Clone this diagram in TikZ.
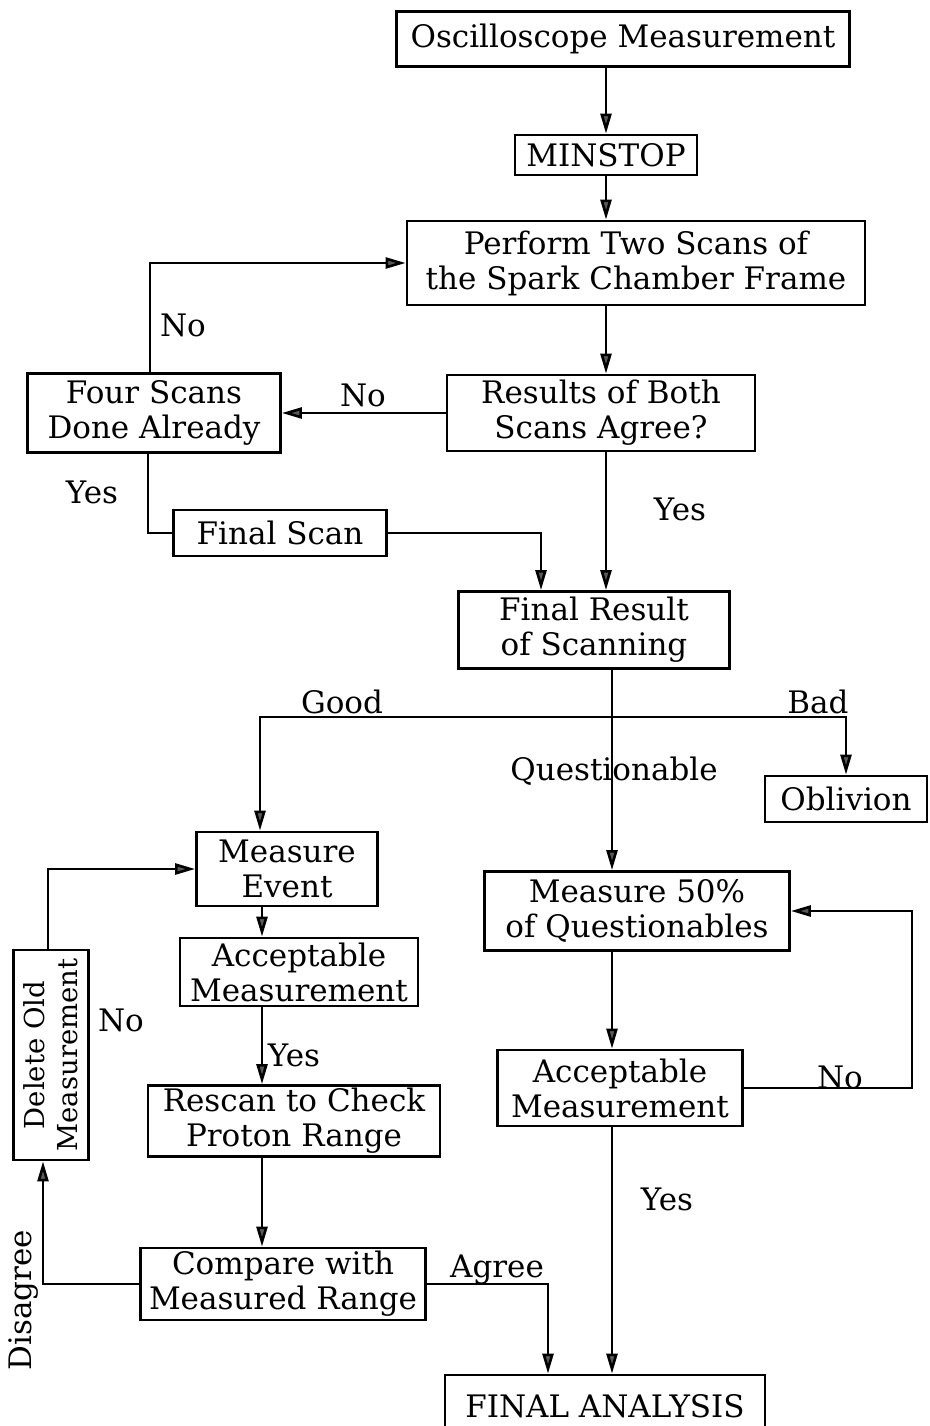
\documentclass[tikz,border=0pt]{standalone}
\usepackage{fontspec}
\setmainfont{DejaVu Serif}
\usetikzlibrary{arrows.meta,calc}
\newcommand{\fsz}{\fontsize{31}{35}\selectfont}
\newcommand{\fszs}{\fontsize{27.5}{33}\selectfont}
\begin{document}
\begin{tikzpicture}[x=1pt,y=-1pt,
  box/.style={draw, line width=2.8pt, font=\fsz, align=center, inner sep=0pt},
  conn/.style={line width=2.6pt},
  arr/.style={line width=2.6pt, -{Triangle[length=20pt,width=11pt,fill=black!65]}},
  lbl/.style={font=\fsz, inner sep=0pt}]
\useasboundingbox (0,0) rectangle (929,1426);
% boxes
\node[box, minimum width=453pt, minimum height=55pt] (osc) at (623,39) {Oscilloscope Measurement};
\node[box, minimum width=182pt, minimum height=40pt] (minstop) at (606,155) {MINSTOP};
\node[box, minimum width=458pt, minimum height=84pt] (perform) at (636,263) {Perform Two Scans of\\the Spark Chamber Frame};
\node[box, minimum width=308pt, minimum height=76pt] (results) at (601,413) {Results of Both\\Scans Agree?};
\node[box, minimum width=253pt, minimum height=79pt] (four) at (154,413) {Four Scans\\Done Already};
\node[box, minimum width=213pt, minimum height=46pt] (fscan) at (280,533) {Final Scan};
\node[box, minimum width=271pt, minimum height=77pt] (fresult) at (594,630) {Final Result\\of Scanning};
\node[box, minimum width=162pt, minimum height=46pt] (obliv) at (846,799) {Oblivion};
\node[box, minimum width=181pt, minimum height=74pt] (mevent) at (287,869) {Measure\\Event};
\node[box, minimum width=305pt, minimum height=79pt] (m50) at (637,911) {Measure 50\%\\of Questionables};
\node[box, minimum width=238pt, minimum height=68pt] (accL) at (299,972) {Acceptable\\Measurement};
\node[box, minimum width=245pt, minimum height=76pt] (accR) at (620,1088) {Acceptable\\Measurement};
\node[box, minimum width=292pt, minimum height=71pt] (rescan) at (294,1121) {Rescan to Check\\Proton Range};
\node[box, font=\fszs, rotate=90, minimum width=210pt, minimum height=75pt] (delete) at (51,1055) {Delete Old\\Measurement};
\node[box, minimum width=285pt, minimum height=72pt] (compare) at (283,1284) {Compare with\\Measured Range};
\node[box, minimum width=320pt, minimum height=62pt] (final) at (605,1406) {FINAL ANALYSIS};
% helper coordinates
\coordinate (mc) at (606,0);
\coordinate (br) at (612,717);
\coordinate (lc) at (262,0);
\coordinate (rloop) at (912,0);
% connectors
\draw[arr] (osc.south -| mc) -- (minstop.north -| mc);
\draw[arr] (minstop.south -| mc) -- (perform.north -| mc);
\draw[arr] (perform.south -| mc) -- (results.north -| mc);
\draw[arr] (results.west) -- (four.east);
\draw[arr] ([xshift=-4pt]four.north) |- (perform.west);
\draw[conn] ([xshift=-6pt]four.south) |- (fscan.west);
\draw[arr] (fscan.east) -| ([xshift=-53pt]fresult.north);
\draw[arr] (results.south -| mc) -- (fresult.north -| mc);
\draw[arr] (fresult.south -| br) -- (m50.north -| br);
\draw[arr] (br) -| ([xshift=-27pt]mevent.north);
\draw[arr] (br) -| (obliv.north);
\draw[arr] (mevent.south -| lc) -- (accL.north -| lc);
\draw[arr] (accL.south -| lc) -- (rescan.north -| lc);
\draw[arr] (rescan.south -| lc) -- (compare.north -| lc);
\draw[arr] (compare.west) -| ([xshift=-8pt]delete.west);
\draw[arr] ([xshift=-3pt]delete.east) |- (mevent.west);
\draw[arr] (compare.east) -| ([xshift=-57pt]final.north);
\draw[arr] (m50.south -| br) -- (accR.north -| br);
\draw[arr] (accR.east) -| (rloop |- m50.east) -- (m50.east);
\draw[arr] (accR.south -| br) -- (final.north -| br);
% labels
\node[lbl] (l1) at (363,395) {No};
\node[lbl] (l2) at (183,325) {No};
\node[lbl] (l3) at (92,492) {Yes};
\node[lbl] (l4) at (680,509) {Yes};
\node[lbl] (l5) at (342,702) {Good};
\node[lbl] (l6) at (818,702) {Bad};
\node[lbl] (l7) at (614,771) {Questionable};
\node[lbl] (l8) at (121,1020) {No};
\node[lbl] (l9) at (294,1055) {Yes};
\node[lbl, rotate=90] (l10) at (24,1300) {Disagree};
\node[lbl] (l11) at (497,1270) {Agree};
\node[lbl] (l12) at (840,1077) {No};
\node[lbl] (l13) at (667,1199) {Yes};
\end{tikzpicture}
\end{document}
